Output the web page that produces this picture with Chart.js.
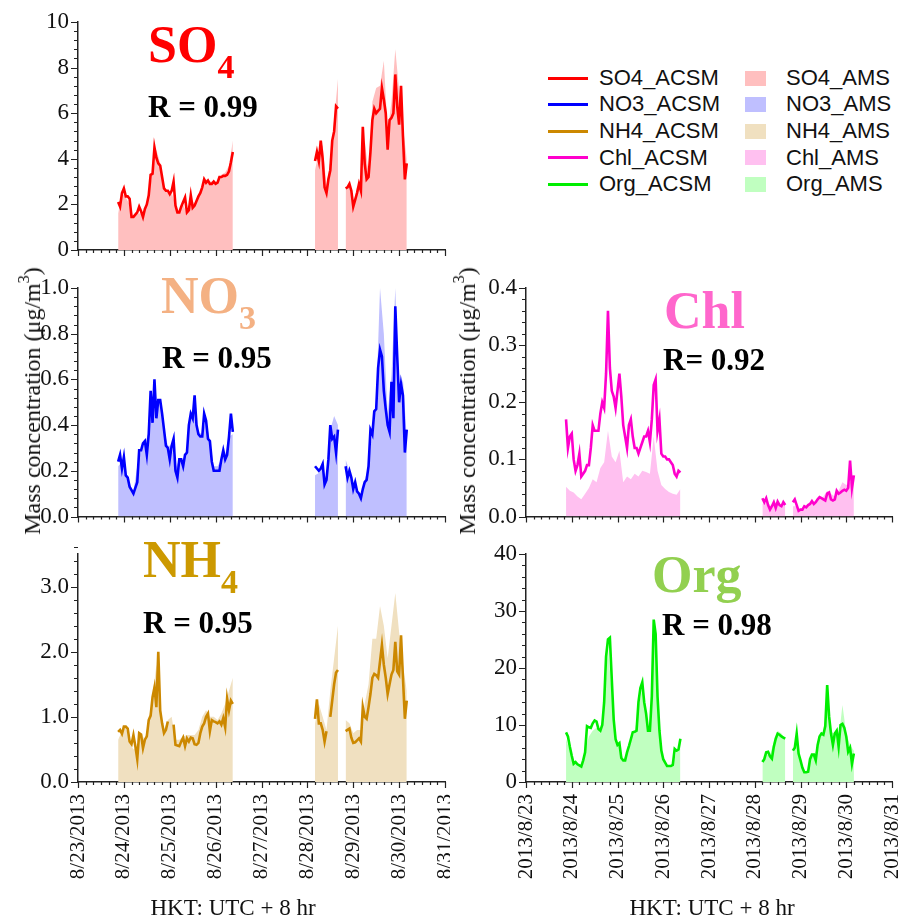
<!DOCTYPE html>
<html>
<head>
<meta charset="utf-8">
<script src="https://cdn.jsdelivr.net/npm/chart.js"></script>
<style>
body { margin: 0; background: #fff; }
#page { position: relative; width: 898px; height: 922px; overflow: hidden; background: #fff;
        font-family: 'Liberation Serif', 'Times New Roman', serif; color: #111; }
canvas { position: absolute; }
.lbl { position: absolute; font-weight: bold; line-height: 1; white-space: nowrap; }
.big { font-size: 52px; }
.big sub { font-size: 34px; vertical-align: -16px; line-height: 1; }
.r { font-size: 31px; color: #000; }
.ytitle { position: absolute; font-size: 24px; line-height: 1; white-space: nowrap;
          transform: translate(-50%, -50%) rotate(-90deg); }
.ytitle sup { font-size: 16px; vertical-align: 11px; line-height: 1; }
.xtitle { position: absolute; font-size: 23px; line-height: 1; white-space: nowrap; transform: translateX(-50%); }
.leg { position: absolute; font-family: 'Liberation Sans', Arial, sans-serif; font-size: 22px; line-height: 22px; color: #111; white-space: nowrap; }
.sw { position: absolute; }
</style>
</head>
<body>
<div id="page">
  <div class="lbl big" style="left:148px;top:19px;color:#ff0000">SO<sub>4</sub></div>
  <div class="lbl r" style="left:148px;top:91px">R = 0.99</div>
  <div class="lbl big" style="left:161px;top:270px;color:#f4b183">NO<sub>3</sub></div>
  <div class="lbl r" style="left:162px;top:342px">R = 0.95</div>
  <div class="lbl big" style="left:143px;top:534px;color:#cc9900">NH<sub>4</sub></div>
  <div class="lbl r" style="left:143px;top:607px">R = 0.95</div>
  <div class="lbl big" style="left:664px;top:285px;color:#ff66cc">Chl</div>
  <div class="lbl r" style="left:663px;top:344px">R= 0.92</div>
  <div class="lbl big" style="left:652px;top:549px;color:#92d050">Org</div>
  <div class="lbl r" style="left:662px;top:609px">R = 0.98</div>

  <div class="ytitle" style="left:30px;top:401px">Mass concentration (μg/m<sup>3</sup>)</div>
  <div class="ytitle" style="left:465px;top:401px">Mass concentration (μg/m<sup>3</sup>)</div>
  <div class="xtitle" style="left:233px;top:896px">HKT: UTC + 8 hr</div>
  <div class="xtitle" style="left:712px;top:896px">HKT: UTC + 8 hr</div>
  <div id="legend"></div>
</div>
<script>
// hours since 8/23/2013 00:00 HKT; hours 100 and 138 hold nulls to break the lines
var acsmHours = [21, 22, 23, 24, 25, 26, 27, 28, 29, 30, 31, 32, 33, 34, 35, 36, 37, 38, 39, 40,
    41, 42, 43, 44, 45, 46, 47, 48, 49, 50, 51, 52, 53, 54, 55, 56, 57, 58, 59, 60,
    61, 62, 63, 64, 65, 66, 67, 68, 69, 70, 71, 72, 73, 74, 75, 76, 77, 78, 79, 80, 81,
    100,
    124, 125, 126, 127, 128, 129, 130, 131, 132, 133, 134, 135, 136,
    138,
    140, 141, 142, 143, 144, 145, 146, 147, 148, 149, 150, 151, 152, 153, 154, 155, 156,
    157, 158, 159, 160, 161, 162, 163, 164, 165, 166, 167, 168, 169, 170, 171, 172];
var amsHours = [21, 23, 25, 27, 29, 31, 33, 35, 37, 39, 41, 43, 45, 47, 49, 51, 53, 55, 57, 59, 61, 63, 65, 67, 69, 71, 73, 75, 77, 79, 81,
    100,
    124, 126, 128, 130, 132, 134, 136,
    138,
    140, 142, 144, 146, 148, 150, 152, 154, 156, 158, 160, 162, 164, 166, 168, 170, 172];

var so4Acsm = [2.1, 1.9, 2.5, 2.7, 2.35, 2.35, 2.25, 1.45, 1.45, 1.55, 1.65, 1.9, 1.7, 1.45, 1.8, 2.0, 2.4, 3.3, 3.35, 4.5,
    4.05, 3.8, 3.7, 3.2, 2.7, 2.6, 2.6, 2.45, 2.6, 3.0, 1.95, 1.65, 1.65, 1.9, 2.1, 2.3, 1.65, 1.75, 2.4, 1.85,
    1.95, 2.15, 2.35, 2.5, 2.75, 3.1, 2.95, 3.05, 2.9, 2.9, 3.0, 2.9, 2.95, 3.2, 3.2, 3.25, 3.25, 3.3, 3.45, 3.85, 4.3,
    null, 3.9, 4.3, 3.9, 4.8, 4.0, 2.75, 2.5, 3.1, 3.5, 4.8, 5.2, 6.3, 6.2,
    null, 2.7, 2.75, 2.9, 2.6, 1.9, 2.2, 2.5, 2.9, 2.6, 5.4, 3.8, 3.1, 3.2, 4.3, 5.7, 6.2, 6.0,
    6.1, 6.2, 7.1, 6.6, 6.0, 4.4, 5.7, 5.8, 6.0, 7.7, 6.3, 5.5, 7.2, 5.0, 3.1, 3.8];
var so4Ams = [1.6, 2.5, 2.3, 2.0, 1.4, 1.6, 1.6, 1.7, 2.4, 3.4, 4.4, 3.8, 2.8, 2.6, 2.5, 2.0, 1.6, 2.0, 1.6, 2.3, 2.0, 2.4, 2.8, 3.1, 3.0, 3.0, 3.0, 3.3, 3.4, 3.7, 4.8,
    null, 3.5, 4.3, 4.6, 2.8, 3.9, 5.7, 7.5,
    null, 2.7, 3.0, 2.0, 2.8, 2.8, 4.8, 3.4, 6.5, 7.1, 7.2, 8.3, 5.2, 6.5, 8.8, 7.0, 5.4, 4.0];

var no3Acsm = [0.24, 0.27, 0.21, 0.26, 0.18, 0.17, 0.13, 0.115, 0.10, 0.125, 0.15, 0.29, 0.29, 0.32, 0.33, 0.27, 0.36, 0.55, 0.41, 0.60,
    0.43, 0.51, 0.51, 0.45, 0.38, 0.31, 0.30, 0.25, 0.31, 0.34, 0.20, 0.17, 0.25, 0.25, 0.22, 0.27, 0.28, 0.40, 0.45, 0.43,
    0.53, 0.40, 0.36, 0.35, 0.35, 0.45, 0.42, 0.34, 0.33, 0.24, 0.20, 0.20, 0.20, 0.20, 0.25, 0.29, 0.25, 0.27, 0.35, 0.45, 0.37,
    null, 0.22, 0.21, 0.20, 0.21, 0.23, 0.14, 0.16, 0.25, 0.40, 0.34, 0.35, 0.28, 0.38,
    null, 0.22, 0.17, 0.20, 0.17, 0.12, 0.15, 0.11, 0.10, 0.08, 0.12, 0.15, 0.16, 0.22, 0.38, 0.36, 0.46, 0.47,
    0.65, 0.73, 0.70, 0.55, 0.47, 0.40, 0.37, 0.59, 0.43, 0.92, 0.70, 0.50, 0.58, 0.53, 0.28, 0.38];
var no3Ams = [0.22, 0.24, 0.18, 0.14, 0.11, 0.22, 0.29, 0.32, 0.37, 0.53, 0.49, 0.50, 0.38, 0.31, 0.31, 0.21, 0.25, 0.23, 0.29, 0.45, 0.48, 0.37, 0.36, 0.42, 0.33, 0.22, 0.22, 0.25, 0.27, 0.35, 0.36,
    null, 0.18, 0.19, 0.21, 0.16, 0.38, 0.44, 0.40,
    null, 0.25, 0.20, 0.13, 0.11, 0.09, 0.16, 0.22, 0.38, 0.50, 1.0, 0.80, 0.45, 0.62, 1.0, 0.55, 0.60, 0.35];

var nh4Acsm = [0.77, 0.80, 0.74, 0.85, 0.85, 0.82, 0.62, 0.58, 0.72, 0.55, 0.35, 0.75, 0.73, 0.52, 0.65, 0.70, 0.95, 1.02, 1.3, 1.45,
    1.15, 2.0, 1.1, 0.90, 0.75, 0.80, 0.93, null, null, 0.88, 0.57, 0.56, 0.55, 0.62, 0.68, 0.55, 0.67, 0.62, 0.68, 0.67,
    0.58, 0.57, 0.60, 0.75, 0.85, 0.90, 1.0, 1.05, 0.78, 0.95, 0.93, 0.92, 0.90, 0.93, 0.88, 0.98, 0.84, 1.28, 1.10, 1.25, 1.20,
    null, 0.97, 1.27, 0.90, 0.90, 0.80, 0.62, 0.78, null, 1.0, 1.25, 1.5, 1.68, 1.72,
    null, 0.78, 0.80, 0.82, 0.68, 0.60, 0.61, 0.64, 0.67, 0.62, 1.15, 1.0, 0.97, 1.15, 1.35, 1.6, 1.66, 1.64,
    1.60, 1.85, 2.1, 1.8, 1.6, 1.35, 1.5, 1.65, 1.72, 2.15, 1.7, 1.65, 2.25, 1.6, 0.97, 1.25];
var nh4Ams = [0.65, 0.78, 0.85, 0.62, 0.5, 0.55, 0.75, 0.65, 0.95, 1.3, 1.8, 1.05, 0.8, 0.95, 1.0, 0.65, 0.65, 0.7, 0.72, 0.72, 0.72, 0.8, 1.0, 1.1, 1.0, 1.0, 0.95, 1.05, 1.2, 1.4, 1.6,
    null, 0.9, 1.2, 1.0, 0.8, 1.4, 1.9, 2.4,
    null, 0.95, 0.9, 0.75, 0.8, 0.8, 1.2, 1.5, 2.2, 2.2, 2.7, 2.4, 1.9, 2.4, 2.9, 2.3, 1.8, 1.4];

var chlAcsm = [0.17, 0.12, 0.14, 0.145, 0.10, 0.08, 0.09, 0.11, 0.07, 0.075, 0.08, 0.09, 0.09, 0.12, 0.16, 0.15, 0.15, 0.15, 0.18, 0.20,
    0.19, 0.25, 0.36, 0.26, 0.22, 0.21, 0.19, 0.22, 0.25, 0.21, 0.16, 0.14, 0.12, 0.16, 0.17, 0.14, 0.12, 0.12, 0.11, 0.12,
    0.13, 0.14, 0.14, 0.15, 0.13, 0.17, 0.23, 0.24, 0.15, 0.17, 0.11, 0.105, 0.105, 0.10, 0.10, 0.095, 0.09, 0.075, 0.07, 0.08, 0.077,
    null, 0.032, 0.025, 0.032, 0.02, 0.012, 0.018, 0.025, 0.015, 0.026, 0.02, 0.018, 0.025, 0.02,
    null, 0.025, 0.03, 0.02, 0.01, 0.012, 0.012, 0.018, 0.016, 0.02, 0.022, 0.027, 0.022, 0.025, 0.03, 0.034, 0.032, 0.03,
    0.028, 0.04, 0.042, 0.03, 0.028, 0.03, 0.045, 0.04, 0.042, 0.045, 0.047, 0.045, 0.05, 0.098, 0.05, 0.072];
var chlAms = [0.052, 0.045, 0.042, 0.035, 0.030, 0.040, 0.050, 0.065, 0.060, 0.085, 0.095, 0.150, 0.105, 0.095, 0.115, 0.06, 0.07, 0.065, 0.075, 0.07, 0.08, 0.078, 0.075, 0.14, 0.08, 0.055, 0.048, 0.043, 0.040, 0.038, 0.048,
    null, 0.022, 0.024, 0.018, 0.02, 0.022, 0.02, 0.02,
    null, 0.018, 0.018, 0.012, 0.015, 0.02, 0.024, 0.028, 0.03, 0.035, 0.045, 0.04, 0.035, 0.045, 0.06, 0.055, 0.06, 0.065];

var orgAcsm = [8.7, 8.0, 6.2, 4.6, 3.2, 3.5, 3.1, 2.9, 2.7, 3.8, 5.2, 9.8, 9.6, 9.5, 10.3, 10.8, 10.6, 9.3, 9.0, 10,
    14, 22, 25, 25.3, 18, 11, 7.5, 6.5, 6.8, 4.2, 3.8, 3.8, 5.2, 6.3, 7.5, 8.7, 8.8, 9.0, 14, 16.5,
    17.5, 14, 12, 9, 9, 15, 28.5, 26, 15, 9, 5.5, 4.0, 3.4, 2.8, 2.8, 2.8, 3.0, 5.8, 5.5, 5.7, 7.6,
    null, 3.5, 4.0, 5.2, 5.3, 4.5, 4.1, 6.2, 7.6, 8.5, 8.3, 8.0, 7.8, 7.6,
    null, 5.5, 6.0, 8.5, 5.0, 3.8, 2.5, 1.7, 1.7, 1.8, 4.0, 4.8, 4.8, 3.8, 6.5, 8.0, 8.5, 8.3,
    9.8, 17.0, 11.5, 8.5, 6.5, 8.5, 9.0, 6.2, 10.0, 10.2, 9.5, 8.0, 5.3, 6.0, 3.2, 5.0];
var orgAms = [7.5, 5.5, 3.3, 3.0, 2.8, 5.5, 8.0, 9.0, 9.5, 8.5, 13.0, 23.5, 15.5, 7.0, 6.5, 3.8, 5.3, 7.5, 8.6, 13.0, 16.5, 11.5, 9.0, 26.5, 15.0, 5.5, 3.3, 2.8, 3.0, 5.3, 7.0,
    null, 3.2, 4.8, 4.8, 7.0, 9.0, 8.5, 7.5,
    null, 5.2, 7.5, 4.0, 1.8, 1.9, 4.8, 5.2, 8.0, 8.8, 14.5, 8.8, 8.5, 7.5, 13.5, 8.5, 6.5, 5.5];

var legendNames = ['SO4', 'NO3', 'NH4', 'Chl', 'Org'];
var lineColors = ['#ff0000', '#0000ff', '#cc8800', '#ff00cc', '#00ee00'];
var fillColors = ['#ffbfbf', '#bfbfff', '#f0e0c0', '#ffc0f0', '#c0ffc0'];

var serif = "'Liberation Serif', 'Times New Roman', serif";
var axisColor = '#222';
var page = document.getElementById('page');

function pts(hrs, arr) {
    return hrs.map(function (h, i) { return { x: h, y: arr[i] }; });
}

// little outward tick marks, major and minor, like the original plot
var tickMarks = {
    id: 'tickMarks',
    afterDraw: function (chart) {
        var o = chart.options.plugins.tickMarks;
        var xs = chart.scales.x, ys = chart.scales.y, a = chart.chartArea;
        var ctx = chart.ctx;
        ctx.save();
        ctx.strokeStyle = axisColor;
        ctx.lineWidth = 1.2;
        ctx.beginPath();
        var n = Math.round((ys.max - ys.min) / o.yMinor);
        for (var i = 0; i <= n; i++) {
            var v = ys.min + i * o.yMinor;
            var r = v / o.yMajor;
            var len = Math.abs(r - Math.round(r)) < 1e-6 ? 7 : 4;
            var py = Math.round(ys.getPixelForValue(v)) + 0.5;
            ctx.moveTo(a.left, py);
            ctx.lineTo(a.left - len, py);
        }
        for (var h = xs.min; h <= xs.max; h += 4) {
            var lx = h % 24 === 0 ? 6 : 3;
            var px = Math.round(xs.getPixelForValue(h)) + 0.5;
            ctx.moveTo(px, a.bottom);
            ctx.lineTo(px, a.bottom + lx);
        }
        ctx.stroke();
        ctx.restore();
    }
};

function panel(cfg) {
    var c = document.createElement('canvas');
    c.width = cfg.w;
    c.height = cfg.h;
    c.style.left = cfg.left + 'px';
    c.style.top = cfg.top + 'px';
    page.insertBefore(c, page.firstChild);
    var k = cfg.idx;
    new Chart(c, {
        type: 'line',
        data: {
            datasets: [
                {
                    label: legendNames[k] + '_ACSM',
                    data: pts(acsmHours, cfg.acsm),
                    borderColor: lineColors[k],
                    borderWidth: 2.6,
                    pointRadius: 0,
                    tension: 0,
                    fill: false,
                    order: 0
                },
                {
                    label: legendNames[k] + '_AMS',
                    data: pts(amsHours, cfg.ams),
                    borderWidth: 0,
                    borderColor: fillColors[k],
                    backgroundColor: fillColors[k],
                    pointRadius: 0,
                    tension: 0,
                    fill: 'origin',
                    order: 1
                }
            ]
        },
        options: {
            responsive: false,
            animation: false,
            devicePixelRatio: 1,
            layout: { padding: { top: cfg.padTop, right: cfg.padRight, left: 0, bottom: 0 } },
            plugins: {
                legend: { display: false },
                tooltip: { enabled: false },
                tickMarks: { yMajor: cfg.yMajor, yMinor: cfg.yMajor / 5 }
            },
            scales: {
                x: {
                    type: 'linear',
                    min: 0,
                    max: 192,
                    afterFit: function (s) { s.height = cfg.xH; s.paddingLeft = 0; s.paddingRight = 0; },
                    grid: { display: false, drawTicks: false },
                    border: { display: true, color: axisColor, width: 1.5 },
                    ticks: {
                        display: cfg.xLabels,
                        stepSize: 24,
                        autoSkip: false,
                        minRotation: 90,
                        maxRotation: 90,
                        padding: 12,
                        color: '#111',
                        font: { family: serif, size: 21 },
                        callback: function (v) {
                            var d = 23 + Math.round(v / 24);
                            return cfg.ymd ? '2013/8/' + d : '8/' + d + '/2013';
                        }
                    }
                },
                y: {
                    min: 0,
                    max: cfg.yMax,
                    afterFit: function (s) { s.width = 78; s.paddingTop = 0; s.paddingBottom = 0; },
                    grid: { display: false, drawTicks: false },
                    border: { display: true, color: axisColor, width: 1.5 },
                    ticks: {
                        stepSize: cfg.yMajor,
                        includeBounds: false,
                        padding: 9,
                        color: '#111',
                        font: { family: serif, size: 23 },
                        callback: function (v) { return v.toFixed(cfg.dec); }
                    }
                }
            }
        },
        plugins: [tickMarks]
    });
}

panel({ idx: 0, acsm: so4Acsm, ams: so4Ams, left: 0, top: 0, w: 450, h: 262, padTop: 22, padRight: 5, xH: 12, xLabels: false, yMax: 10, yMajor: 2, dec: 0 });
panel({ idx: 1, acsm: no3Acsm, ams: no3Ams, left: 0, top: 270, w: 450, h: 260, padTop: 18, padRight: 5, xH: 13.5, xLabels: false, yMax: 1.0, yMajor: 0.2, dec: 1 });
panel({ idx: 2, acsm: nh4Acsm, ams: nh4Ams, left: 0, top: 540, w: 450, h: 382, padTop: 14, padRight: 5, xH: 140, xLabels: true, ymd: false, yMax: 3.5, yMajor: 1.0, dec: 1 });
panel({ idx: 3, acsm: chlAcsm, ams: chlAms, left: 448, top: 270, w: 450, h: 260, padTop: 18, padRight: 6, xH: 13.5, xLabels: false, yMax: 0.4, yMajor: 0.1, dec: 1 });
panel({ idx: 4, acsm: orgAcsm, ams: orgAms, left: 448, top: 540, w: 450, h: 382, padTop: 14, padRight: 6, xH: 140, xLabels: true, ymd: true, yMax: 40, yMajor: 10, dec: 0 });

// legend in the empty upper-right corner
var rowY = [78, 104, 131, 157.5, 184];
var leg = document.getElementById('legend');
var html = '';
for (var i = 0; i < legendNames.length; i++) {
    html += '<div class="sw" style="left:548px;top:' + (rowY[i] - 1.5) + 'px;width:40px;height:3px;background:' + lineColors[i] + '"></div>';
    html += '<div class="leg" style="left:599px;top:' + (rowY[i] - 11) + 'px">' + legendNames[i] + '_ACSM</div>';
    html += '<div class="sw" style="left:745px;top:' + (rowY[i] - 7.5) + 'px;width:21px;height:15px;background:' + fillColors[i] + '"></div>';
    html += '<div class="leg" style="left:786px;top:' + (rowY[i] - 11) + 'px">' + legendNames[i] + '_AMS</div>';
}
leg.innerHTML = html;
</script>
</body>
</html>
